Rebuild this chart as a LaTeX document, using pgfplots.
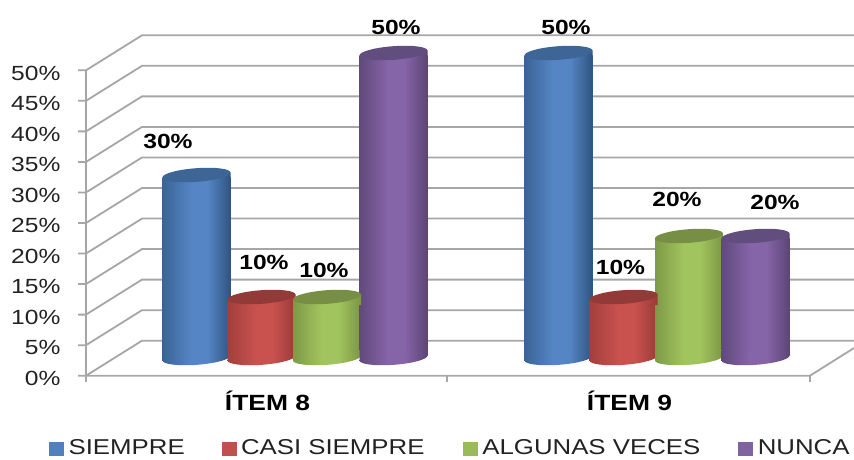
\documentclass[border=0pt]{standalone}
\usepackage{pgfplots}
\usepackage{pgfplotstable}
\usepackage{fontspec}
\pgfplotsset{compat=1.18}
\setmainfont[FakeStretch=1.2]{Liberation Sans}
\definecolor{wallgray}{HTML}{A6A6A6}
\definecolor{txt}{HTML}{222222}
\definecolor{bleg}{HTML}{4F81BD}
\definecolor{rleg}{HTML}{C0504D}
\definecolor{gleg}{HTML}{9BBB59}
\definecolor{pleg}{HTML}{8064A2}
\definecolor{bL}{HTML}{3A6496}\definecolor{bM}{HTML}{5585C5}\definecolor{bR}{HTML}{2F5580}\definecolor{bT}{HTML}{3D6595}
\definecolor{rL}{HTML}{A23F3C}\definecolor{rM}{HTML}{C9514E}\definecolor{rR}{HTML}{9A3B38}\definecolor{rT}{HTML}{913A38}
\definecolor{gL}{HTML}{7D9A47}\definecolor{gM}{HTML}{A2C45E}\definecolor{gR}{HTML}{7A9644}\definecolor{gT}{HTML}{768F45}
\definecolor{pL}{HTML}{604A7B}\definecolor{pM}{HTML}{8664A8}\definecolor{pR}{HTML}{5B4575}\definecolor{pT}{HTML}{614E7E}
\newcommand\declcyl[1]{%
  \pgfdeclarehorizontalshading{side#1}{100bp}{color(0bp)=(#1L);color(25bp)=(#1L);color(46bp)=(#1M);color(58bp)=(#1M);color(75bp)=(#1R);color(100bp)=(#1R)}%
  \pgfdeclareplotmark{cap#1}{%
    \pgfpathmoveto{\pgfpoint{-34pt}{-2.5pt}}\pgfpathlineto{\pgfpoint{34pt}{2.5pt}}%
    \pgfpathlineto{\pgfpoint{34pt}{-8pt}}\pgfpathlineto{\pgfpoint{-34pt}{-8pt}}\pgfpathclose
    \pgfshadepath{side#1}{0}\pgfusepath{discard}%
    \pgfsetfillcolor{#1T}%
    \pgfpathellipse{\pgfpointorigin}{\pgfpoint{34pt}{2.5pt}}{\pgfpoint{-0.4pt}{6.8pt}}%
    \pgfusepathqfill}%
  \pgfdeclareplotmark{foot#1}{%
    \pgfpathmoveto{\pgfpoint{-34pt}{-2.5pt}}\pgfpathlineto{\pgfpoint{34pt}{2.5pt}}%
    \pgfpathlineto{\pgfpoint{34pt}{8pt}}\pgfpathlineto{\pgfpoint{-34pt}{8pt}}\pgfpathclose
    \pgfshadepath{side#1}{0}\pgfusepath{discard}%
    \pgfpathellipse{\pgfpointorigin}{\pgfpoint{34pt}{2.5pt}}{\pgfpoint{-0.4pt}{6.8pt}}%
    \pgfshadepath{side#1}{0}\pgfusepath{discard}}%
}
\declcyl{b}\declcyl{r}\declcyl{g}\declcyl{p}
\pgfplotstableread{
item siempre casi algunas nunca zero
8    30      10   10      50    0
9    50      10   20      20    0
}\datatable
\def\P#1#2{(#1pt,{459pt-#2pt})}
% letter, column, bar shift, item
\newcommand\onebar[4]{%
  \addplot[forget plot,only marks,mark=foot#1,mark options={xshift=#3pt,yshift=-2.5pt},
    restrict x to domain=#4:#4]
    table[x=item,y=zero]{\datatable};
  \addplot[forget plot,ybar,bar width=68pt,bar shift=#3pt,draw=none,shade,shading=side#1,
    restrict x to domain=#4:#4,y filter/.expression={y-0.82}]
    table[x=item,y=#2]{\datatable};
  \addplot[forget plot,only marks,mark=cap#1,mark options={xshift=#3pt,yshift=-2.5pt},
    restrict x to domain=#4:#4]
    table[x=item,y=#2]{\datatable};
}
\begin{document}
\begin{tikzpicture}
\useasboundingbox (0,0) rectangle (854pt,459pt);
\begin{scope}[wallgray,line width=1.8pt]
  \foreach \k in {0,...,10}{
    \pgfmathsetmacro\pf{375.7-30.54*\k}
    \pgfmathsetmacro\pb{\pf-35}
    \draw \P{78}{\pf} -- \P{86}{\pf} -- \P{142}{\pb} -- \P{854}{\pb};
  }
  \draw \P{86}{70} -- \P{86}{382};
  \draw \P{86}{375.7} -- \P{810}{375.7} -- \P{854}{348};
  \foreach \x in {447,810}{\draw \P{\x}{375.7} -- \P{\x}{382};}
\end{scope}
\begin{axis}[
  at={(0,0)},anchor=south west,scale only axis,width=854pt,height=459pt,
  xmin=7.26381,xmax=9.62293,ymin=-16.967,ymax=58.279,
  clip=false,
  axis line style={draw=none},
  major tick length=0pt,
  xtick={8,9},xticklabels={ÍTEM 8,ÍTEM 9},
  xticklabel style={font=\fontsize{22}{24}\selectfont\bfseries,text=black,anchor=base,xshift=1pt,yshift=49pt},
  ytick={-3.311,1.689,6.689,11.689,16.689,21.689,26.689,31.689,36.689,41.689,46.689},
  yticklabels={0\%,5\%,10\%,15\%,20\%,25\%,30\%,35\%,40\%,45\%,50\%},
  yticklabel style={font=\fontsize{20.5}{22}\selectfont,text=txt,anchor=east,xshift=64pt,yshift=-2.5pt},
  legend columns=4,
  legend style={at={(49pt,2.5pt)},anchor=south west,draw=none,fill=none,
    font=\fontsize{21.5}{24}\selectfont,text=txt,inner xsep=0pt,inner ysep=0pt,
    nodes={inner xsep=0pt,inner ysep=0pt,anchor=base west},
    /tikz/column sep=0pt},
]
\addlegendimage{legend image code/.code={\fill[bleg] (0pt,0pt) rectangle (14pt,13pt);}}
\addlegendentry{\makebox[158pt][l]{\hspace{5pt}SIEMPRE}}
\addlegendimage{legend image code/.code={\fill[rleg] (0pt,0pt) rectangle (14pt,13pt);}}
\addlegendentry{\makebox[227pt][l]{\hspace{5pt}CASI SIEMPRE}}
\addlegendimage{legend image code/.code={\fill[gleg] (0pt,0pt) rectangle (14pt,13pt);}}
\addlegendentry{\makebox[261pt][l]{\hspace{5pt}ALGUNAS VECES}}
\addlegendimage{legend image code/.code={\fill[pleg] (0pt,0pt) rectangle (14pt,13pt);}}
\addlegendentry{\makebox[100pt][l]{\hspace{5pt}NUNCA}}
\onebar{b}{siempre}{-70}{8}
\onebar{r}{casi}{-5}{8}
\onebar{g}{algunas}{60.5}{8}
\onebar{p}{nunca}{127}{8}
\onebar{b}{siempre}{-70}{9}
\onebar{r}{casi}{-5}{9}
\onebar{g}{algunas}{60.5}{9}
\onebar{p}{nunca}{127}{9}
\end{axis}
\begin{scope}[every node/.style={font=\fontsize{20.5}{22}\selectfont\bfseries,text=black,inner sep=0pt,anchor=center}]
  \node at \P{168}{141} {30\%};
  \node at \P{264}{262} {10\%};
  \node at \P{324}{270} {10\%};
  \node at \P{396}{27} {50\%};
  \node at \P{566}{27} {50\%};
  \node at \P{620.5}{267} {10\%};
  \node at \P{677}{199} {20\%};
  \node at \P{775}{202} {20\%};
\end{scope}
\end{tikzpicture}
\end{document}
